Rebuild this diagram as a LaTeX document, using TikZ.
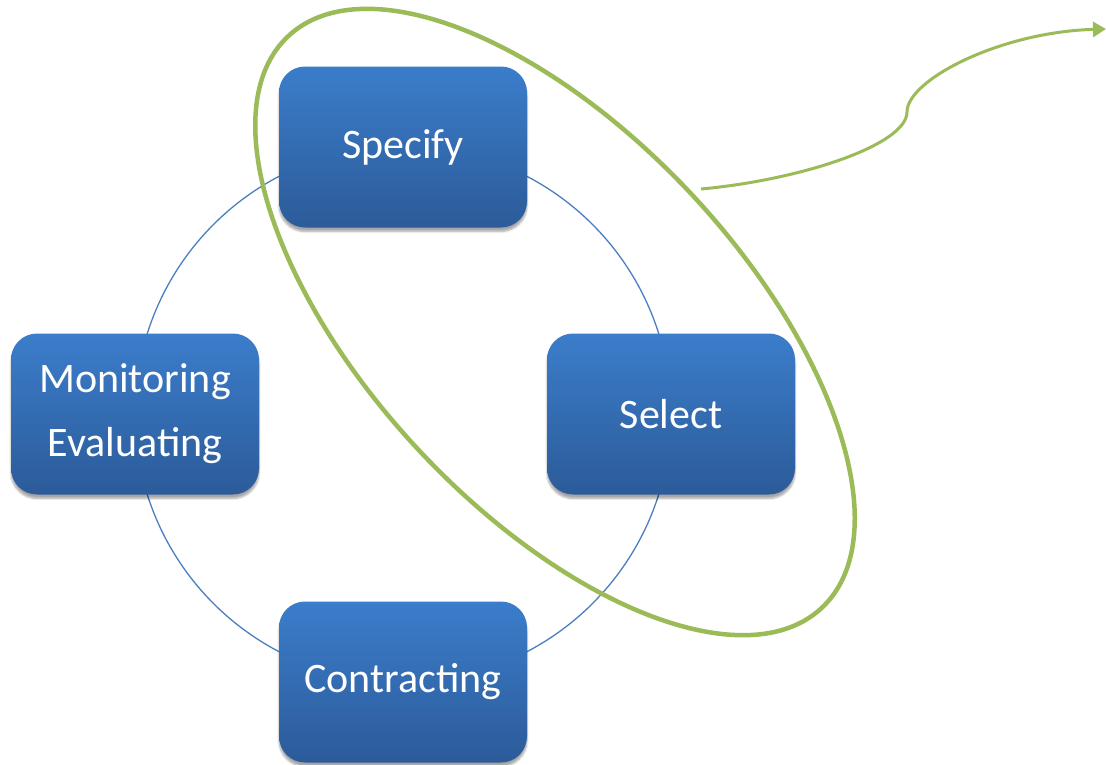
\documentclass[tikz,border=0pt]{standalone}
\usepackage{fontspec}
\setmainfont{Carlito}
\usetikzlibrary{arrows.meta,shadows.blur}

\definecolor{boxtop}{HTML}{3B7DCB}
\definecolor{boxbot}{HTML}{2C5B99}
\definecolor{ringblue}{HTML}{4A7EBF}
\definecolor{focusgreen}{HTML}{9BBB59}

\tikzset{
  stagebox/.style={
    rectangle, rounded corners=26pt,
    minimum width=248pt, minimum height=161pt, inner sep=0pt,
    top color=boxtop, bottom color=boxbot, draw=none,
    text=white, align=center,
    font=\fontsize{42}{64}\selectfont,
    blur shadow={shadow xshift=0pt, shadow yshift=-4pt,
                 shadow blur steps=6, shadow opacity=35}
  },
  ring/.style={draw=ringblue, line width=1.3pt},
  focus/.style={draw=focusgreen, line width=4.5pt},
  pointer/.style={draw=focusgreen, line width=3pt,
                  -{Triangle[length=13pt,width=15pt]}}
}

\begin{document}
\begin{tikzpicture}[x=1pt, y=-1pt]
  \useasboundingbox (0,0) rectangle (1106,764);

  % cycle ring behind the stages
  \coordinate (hub) at (403,414);
  \draw[ring] (hub) circle[radius=268pt];

  % the four stages
  \node[stagebox] (specify)  at (403,147) {Specify};
  \node[stagebox] (select)   at (671,414) {Select};
  \node[stagebox] (monitor)  at (135,414) {Monitoring\\Evaluating};
  \node[stagebox] (contract) at (403,682) {Contracting};

  % highlight around Specify and Select
  \coordinate (focusc) at (555,322);
  \draw[focus, rotate around={-47:(focusc)}]
    (focusc) ellipse [x radius=391pt, y radius=187pt];

  % pointer leaving the highlight
  \coordinate (pstart) at (701,189);
  \coordinate (pmid)   at (907,112);
  \coordinate (pend)   at (1106,29);
  \draw[pointer] (pstart) .. controls (800,180) and (907,145) .. (pmid)
                 .. controls (907,80) and (1000,32) .. (pend);
\end{tikzpicture}
\end{document}
